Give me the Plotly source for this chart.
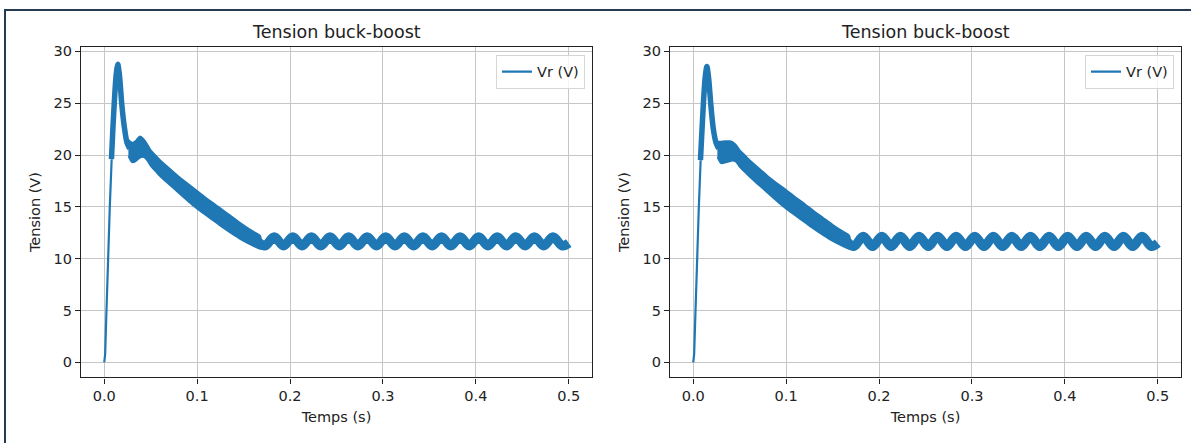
import plotly.graph_objects as go

W, H = 1191, 443
BLUE = "#1f77b4"
FONT = "DejaVu Sans"

# ---------------- data : left panel ----------------
L_rise_t = [0.0, 0.001, 0.002, 0.003, 0.004, 0.005, 0.006, 0.007, 0.0080]
L_rise_v = [0.0, 0.8, 3.8, 7.2, 10.4, 12.8, 15.0, 17.3, 19.6]

L_spike_t = [0.0078, 0.0092, 0.0108, 0.0128, 0.0146, 0.0165, 0.0188, 0.0215, 0.0245, 0.0275]
L_spike_v = [19.6, 22.3, 25.0, 27.7, 28.75, 27.6, 25.0, 22.8, 21.2, 20.6]

L_band_t = [0.026, 0.030, 0.034, 0.038, 0.042, 0.046, 0.050, 0.055, 0.060, 0.070,
            0.080, 0.090, 0.100, 0.110, 0.120, 0.130, 0.140, 0.150, 0.160, 0.168]
L_band_hi = [21.5, 21.2, 21.4, 21.8, 21.6, 21.1, 20.5, 20.0, 19.55, 18.75,
             17.95, 17.25, 16.55, 15.85, 15.2, 14.55, 13.9, 13.25, 12.65, 12.2]
L_band_lo = [19.9, 19.3, 19.4, 19.7, 19.8, 19.5, 18.95, 18.45, 17.95, 17.15,
             16.35, 15.55, 14.8, 14.15, 13.5, 12.85, 12.25, 11.7, 11.25, 10.95]

L_osc_t = [0.166, 0.173, 0.183, 0.193, 0.203, 0.213, 0.223, 0.233, 0.243, 0.253,
           0.263, 0.273, 0.283, 0.293, 0.303, 0.313, 0.323, 0.333, 0.343, 0.353,
           0.363, 0.373, 0.383, 0.393, 0.403, 0.413, 0.423, 0.433, 0.443, 0.453,
           0.463, 0.473, 0.483, 0.493, 0.500]
L_osc_v = [11.6, 11.25, 12.1, 11.25, 12.1, 11.25, 12.1, 11.25, 12.1, 11.25,
           12.1, 11.25, 12.1, 11.25, 12.1, 11.25, 12.1, 11.25, 12.1, 11.25,
           12.1, 11.25, 12.1, 11.25, 12.1, 11.25, 12.1, 11.25, 12.1, 11.25,
           12.1, 11.25, 12.1, 11.25, 11.5]

# ---------------- data : right panel ----------------
R_rise_t = [0.0, 0.001, 0.002, 0.003, 0.004, 0.005, 0.006, 0.007, 0.0080]
R_rise_v = [0.0, 0.8, 3.7, 7.0, 10.2, 12.6, 14.9, 17.2, 19.5]

R_spike_t = [0.0078, 0.0093, 0.0109, 0.0129, 0.0147, 0.0166, 0.0189, 0.0215, 0.0245, 0.0275]
R_spike_v = [19.5, 22.2, 24.9, 27.5, 28.55, 27.4, 24.9, 22.6, 21.2, 20.6]

R_band_t = [0.026, 0.030, 0.034, 0.038, 0.042, 0.046, 0.050, 0.055, 0.060, 0.070,
            0.080, 0.090, 0.100, 0.110, 0.120, 0.130, 0.140, 0.150, 0.160, 0.168]
R_band_hi = [21.3, 21.3, 21.35, 21.35, 21.3, 21.0, 20.5, 20.05, 19.6, 18.8,
             18.0, 17.3, 16.65, 15.95, 15.3, 14.6, 13.95, 13.3, 12.7, 12.25]
R_band_lo = [19.8, 19.2, 19.25, 19.35, 19.45, 19.35, 18.85, 18.4, 17.95, 17.15,
             16.35, 15.55, 14.8, 14.15, 13.5, 12.85, 12.25, 11.7, 11.25, 10.95]

R_osc_t = L_osc_t
R_osc_v = [11.6, 11.2, 12.15, 11.2, 12.15, 11.2, 12.15, 11.2, 12.15, 11.2,
           12.15, 11.2, 12.15, 11.2, 12.15, 11.2, 12.15, 11.2, 12.15, 11.2,
           12.15, 11.2, 12.15, 11.2, 12.15, 11.2, 12.15, 11.2, 12.15, 11.2,
           12.15, 11.2, 12.15, 11.2, 11.5]

x_ticks = [0.0, 0.1, 0.2, 0.3, 0.4, 0.5]
y_ticks = [0, 5, 10, 15, 20, 25, 30]
TITLE = "Tension buck-boost"
XLABEL = "Temps (s)"
YLABEL = "Tension (V)"
SERIES = "Vr (V)"

# ---------------- figure ----------------
fig = go.Figure()


def add_panel(suffix, legend_name, rise_t, rise_v, spike_t, spike_v,
              band_t, band_hi, band_lo, osc_t, osc_v):
    xa = "x" + suffix
    ya = "y" + suffix
    fig.add_trace(go.Scatter(
        x=band_t + band_t[::-1], y=band_hi + band_lo[::-1],
        mode="lines", fill="toself", fillcolor=BLUE,
        line=dict(color=BLUE, width=1.5, shape="spline", smoothing=0.8),
        showlegend=False, hoverinfo="skip", xaxis=xa, yaxis=ya))
    fig.add_trace(go.Scatter(
        x=osc_t, y=osc_v, mode="lines",
        line=dict(color=BLUE, width=9.5, shape="spline", smoothing=1.0),
        showlegend=False, xaxis=xa, yaxis=ya))
    fig.add_trace(go.Scatter(
        x=spike_t, y=spike_v, mode="lines",
        line=dict(color=BLUE, width=5.5, shape="spline", smoothing=0.7),
        showlegend=False, xaxis=xa, yaxis=ya))
    fig.add_trace(go.Scatter(
        x=rise_t, y=rise_v, mode="lines", name=SERIES,
        line=dict(color=BLUE, width=2.2),
        showlegend=True, legend=legend_name, xaxis=xa, yaxis=ya))


add_panel("", "legend", L_rise_t, L_rise_v, L_spike_t, L_spike_v,
          L_band_t, L_band_hi, L_band_lo, L_osc_t, L_osc_v)
add_panel("2", "legend2", R_rise_t, R_rise_v, R_spike_t, R_spike_v,
          R_band_t, R_band_hi, R_band_lo, R_osc_t, R_osc_v)


def px_x(p):
    return p / W


def px_y(p):
    return 1 - p / H


panels = [(81, 592), (670, 1181)]
top_px, bot_px = 44, 377

axis_common = dict(
    showline=True, mirror=True, linecolor="#222222", linewidth=1.2,
    showgrid=True, gridcolor="#c6c6c6", gridwidth=1.1, zeroline=False,
    ticks="outside", ticklen=5, tickwidth=1.1, tickcolor="#222222",
    tickfont=dict(family=FONT, size=14.5, color="#222222"),
)

layout = dict(
    width=W, height=H,
    margin=dict(l=0, r=0, t=0, b=0),
    paper_bgcolor="white", plot_bgcolor="white",
    font=dict(family=FONT, color="#222222"),
    shapes=[
        dict(type="line", xref="paper", yref="paper",
             x0=px_x(4), x1=1.01, y0=px_y(7), y1=px_y(7),
             line=dict(color="#263b52", width=2)),
        dict(type="line", xref="paper", yref="paper",
             x0=px_x(5), x1=px_x(5), y0=px_y(6), y1=-0.01,
             line=dict(color="#263b52", width=2)),
    ],
    annotations=[],
)

for i, (x0, x1) in enumerate(panels):
    sfx = "" if i == 0 else str(i + 1)
    layout["xaxis" + sfx] = dict(
        axis_common, domain=[px_x(x0), px_x(x1)], range=[-0.025, 0.525],
        tickvals=x_ticks, tickformat=".1f", anchor="y" + sfx,
        title=dict(text=XLABEL, font=dict(family=FONT, size=14.5, color="#222222"), standoff=8),
    )
    layout["yaxis" + sfx] = dict(
        axis_common, domain=[px_y(bot_px), px_y(top_px)], range=[-1.45, 30.45],
        tickvals=y_ticks, anchor="x" + sfx,
        title=dict(text=YLABEL, font=dict(family=FONT, size=14.5, color="#222222"), standoff=9),
    )
    layout["annotations"].append(dict(
        text=TITLE, xref="paper", yref="paper",
        x=px_x((x0 + x1) / 2), y=px_y(29), xanchor="center", yanchor="middle",
        showarrow=False, font=dict(family=FONT, size=17.5, color="#222222")))
    lg = "legend" if i == 0 else "legend2"
    layout[lg] = dict(
        x=px_x(x1 - 7), y=px_y(top_px + 8), xanchor="right", yanchor="top",
        bgcolor="rgba(255,255,255,0.8)", bordercolor="#d6d6d6", borderwidth=1,
        font=dict(family=FONT, size=14.5, color="#222222"),
    )

fig.update_layout(**layout)
fig.write_html("out.html")
